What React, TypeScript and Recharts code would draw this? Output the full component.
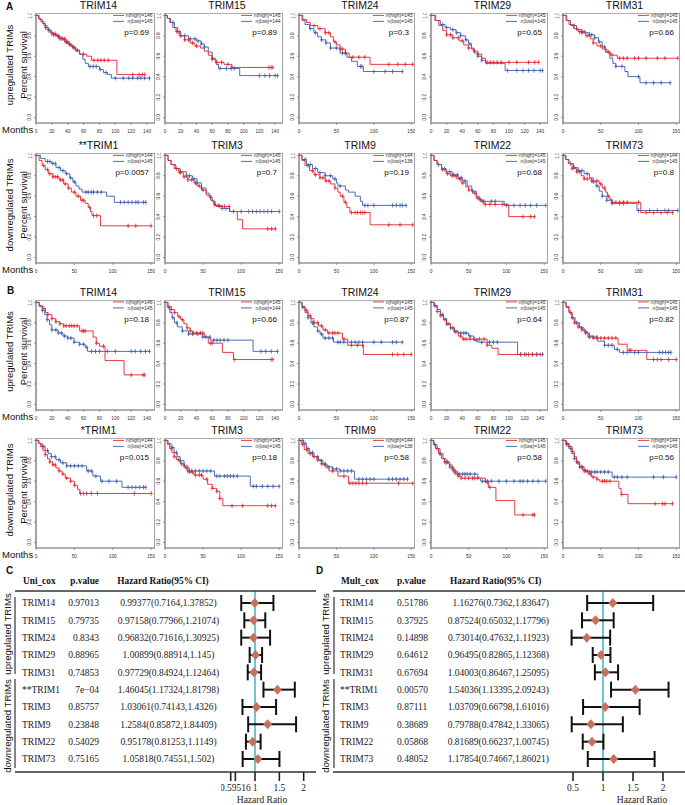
import React from 'react';
import {
  ComposedChart,
  ErrorBar,
  Line,
  ReferenceArea,
  ReferenceLine,
  Scatter,
  ScatterChart,
  XAxis,
  YAxis,
} from 'recharts';

type Pt = [number, number];

// KM curves: [month, survival] steps, plus censor months.
// A, upregulated
const a14Hi: Pt[] = [[0, 1], [3, 0.97], [6, 0.94], [10, 0.9], [14, 0.86], [18, 0.83], [22, 0.81], [27, 0.79], [32, 0.77], [38, 0.74], [42, 0.71], [46, 0.68], [50, 0.65], [55, 0.62], [64, 0.6], [70, 0.56], [102, 0.42]];
const a14HiC = [22, 25, 28, 33, 36, 38, 40, 43, 48, 60, 73, 78, 82, 86, 91, 122, 130, 134, 137];
const a14Lo: Pt[] = [[0, 1], [4, 0.96], [8, 0.92], [12, 0.88], [16, 0.85], [20, 0.82], [25, 0.8], [30, 0.77], [36, 0.74], [40, 0.72], [45, 0.69], [50, 0.66], [55, 0.62], [59, 0.57], [62, 0.53], [66, 0.5], [80, 0.47], [85, 0.44], [90, 0.42], [95, 0.385]];
const a14LoC = [12, 16, 20, 24, 28, 30, 34, 38, 42, 47, 52, 68, 72, 76, 81, 88, 100, 110, 117, 122, 128, 132, 137, 143];

const a15Hi: Pt[] = [[0, 1], [3, 0.97], [6, 0.93], [10, 0.88], [14, 0.84], [18, 0.8], [25, 0.76], [32, 0.73], [38, 0.7], [45, 0.68], [50, 0.65], [55, 0.61], [60, 0.58], [64, 0.54], [75, 0.52], [85, 0.49]];
const a15HiC = [15, 20, 25, 30, 35, 40, 60, 66, 72, 80, 85, 132, 135, 137];
const a15Lo: Pt[] = [[0, 1], [3, 0.97], [7, 0.93], [12, 0.88], [16, 0.84], [20, 0.8], [30, 0.77], [40, 0.75], [46, 0.72], [50, 0.69], [55, 0.64], [60, 0.57], [65, 0.52], [68, 0.48], [95, 0.41]];
const a15LoC = [10, 18, 25, 32, 38, 42, 46, 50, 60, 70, 78, 84, 88, 120, 127, 133, 140, 143];

const a24Hi: Pt[] = [[0, 1], [5, 0.96], [10, 0.93], [15, 0.9], [25, 0.87], [35, 0.83], [42, 0.79], [46, 0.74], [50, 0.71], [55, 0.67], [62, 0.63], [67, 0.59], [95, 0.52]];
const a24HiC = [20, 28, 35, 40, 48, 55, 58, 62, 72, 80, 88, 120, 132, 142, 152];
const a24Lo: Pt[] = [[0, 1], [4, 0.95], [8, 0.91], [14, 0.87], [20, 0.83], [25, 0.79], [30, 0.76], [36, 0.73], [42, 0.68], [55, 0.63], [64, 0.59], [70, 0.55], [78, 0.5], [86, 0.45]];
const a24LoC = [15, 22, 30, 36, 42, 50, 58, 62, 82, 84, 100, 115, 125, 138];

const a29Hi: Pt[] = [[0, 1], [5, 0.95], [10, 0.9], [15, 0.85], [20, 0.81], [28, 0.78], [36, 0.75], [42, 0.71], [48, 0.68], [55, 0.65], [60, 0.62], [65, 0.58], [70, 0.54]];
const a29HiC = [20, 25, 28, 35, 40, 48, 55, 60, 72, 76, 80, 85, 90, 100, 110, 125, 133, 138];
const a29Lo: Pt[] = [[0, 1], [6, 0.95], [12, 0.91], [18, 0.88], [25, 0.86], [32, 0.83], [38, 0.8], [44, 0.76], [48, 0.72], [52, 0.67], [56, 0.63], [60, 0.6], [65, 0.56], [70, 0.53], [95, 0.46]];
const a29LoC = [15, 20, 28, 33, 38, 45, 50, 60, 65, 98, 110, 118, 125, 132, 140, 143];

const a31Hi: Pt[] = [[0, 1], [4, 0.95], [8, 0.91], [14, 0.87], [20, 0.84], [30, 0.8], [36, 0.77], [40, 0.73], [45, 0.7], [52, 0.67], [58, 0.64], [63, 0.61], [72, 0.58]];
const a31HiC = [18, 22, 25, 28, 32, 40, 50, 60, 65, 75, 80, 85, 95, 100, 110, 125, 135, 152];
const a31Lo: Pt[] = [[0, 1], [5, 0.95], [10, 0.9], [18, 0.86], [25, 0.83], [35, 0.81], [42, 0.78], [47, 0.74], [52, 0.69], [56, 0.64], [62, 0.58], [66, 0.53], [70, 0.5], [82, 0.45], [86, 0.4], [102, 0.34]];
const a31LoC = [15, 25, 35, 38, 42, 48, 55, 70, 78, 100, 110, 120, 130, 142];

// A, downregulated
const a1Hi: Pt[] = [[0, 1], [4, 0.95], [8, 0.9], [12, 0.86], [16, 0.82], [22, 0.79], [30, 0.76], [36, 0.72], [42, 0.68], [46, 0.64], [52, 0.6], [58, 0.56], [64, 0.53], [68, 0.49], [71, 0.45], [73, 0.41], [84, 0.31]];
const a1HiC = [10, 15, 18, 22, 25, 28, 32, 35, 38, 42, 50, 55, 60, 62, 70, 75, 79, 120, 130, 150];
const a1Lo: Pt[] = [[0, 1], [6, 0.97], [12, 0.94], [20, 0.92], [26, 0.88], [32, 0.85], [38, 0.82], [44, 0.78], [48, 0.74], [52, 0.7], [56, 0.67], [60, 0.64], [92, 0.6], [102, 0.54]];
const a1LoC = [15, 18, 22, 25, 30, 35, 40, 45, 50, 65, 68, 72, 75, 80, 85, 110, 115, 120, 125, 130, 133, 140, 143];

const a3Hi: Pt[] = [[0, 1], [4, 0.95], [8, 0.91], [12, 0.87], [18, 0.83], [24, 0.79], [30, 0.76], [38, 0.73], [42, 0.7], [48, 0.66], [54, 0.61], [60, 0.56], [64, 0.52], [67, 0.5], [85, 0.45], [95, 0.37], [102, 0.28]];
const a3HiC = [15, 20, 25, 30, 35, 40, 45, 50, 65, 72, 78, 84, 135, 140, 145];
const a3Lo: Pt[] = [[0, 1], [4, 0.95], [8, 0.91], [14, 0.87], [20, 0.84], [28, 0.8], [36, 0.77], [42, 0.73], [48, 0.68], [54, 0.63], [58, 0.59], [62, 0.55], [66, 0.51], [75, 0.48], [85, 0.45]];
const a3LoC = [20, 28, 32, 38, 42, 48, 60, 70, 75, 80, 90, 100, 110, 115, 120, 125, 130, 135, 140, 150];

const a9Hi: Pt[] = [[0, 1], [4, 0.95], [8, 0.9], [14, 0.85], [20, 0.81], [28, 0.78], [35, 0.75], [42, 0.72], [48, 0.68], [52, 0.64], [55, 0.6], [60, 0.54], [64, 0.49], [68, 0.44], [95, 0.32]];
const a9HiC = [12, 18, 22, 28, 32, 36, 40, 48, 58, 62, 70, 75, 78, 82, 85, 88, 120, 135, 152];
const a9Lo: Pt[] = [[0, 1], [4, 0.96], [10, 0.91], [18, 0.87], [25, 0.83], [35, 0.8], [45, 0.77], [50, 0.73], [52, 0.7], [62, 0.66], [66, 0.64], [75, 0.6], [82, 0.55], [85, 0.51]];
const a9LoC = [8, 15, 22, 28, 35, 42, 48, 55, 88, 92, 100, 125, 130, 135, 138, 143];

const a22Hi: Pt[] = [[0, 1], [4, 0.95], [8, 0.91], [14, 0.86], [20, 0.82], [26, 0.8], [34, 0.77], [40, 0.73], [46, 0.69], [50, 0.66], [55, 0.63], [60, 0.58], [65, 0.55], [70, 0.52], [103, 0.4]];
const a22HiC = [15, 22, 28, 32, 38, 42, 50, 58, 62, 68, 72, 78, 85, 95, 122, 132, 137];
const a22Lo: Pt[] = [[0, 1], [4, 0.95], [8, 0.91], [14, 0.87], [20, 0.84], [28, 0.81], [36, 0.78], [42, 0.75], [48, 0.7], [54, 0.65], [60, 0.6], [64, 0.57], [67, 0.55], [97, 0.51]];
const a22LoC = [10, 18, 25, 30, 35, 40, 45, 55, 65, 70, 80, 85, 100, 110, 118, 125, 132, 140, 152];

const a73Hi: Pt[] = [[0, 1], [3, 0.96], [7, 0.92], [12, 0.87], [18, 0.84], [24, 0.8], [28, 0.77], [38, 0.75], [48, 0.72], [52, 0.68], [56, 0.64], [59, 0.6], [62, 0.57], [65, 0.54], [103, 0.44]];
const a73HiC = [12, 18, 22, 28, 32, 38, 45, 50, 55, 60, 65, 70, 75, 80, 85, 100, 110, 120, 130, 138, 145];
const a73Lo: Pt[] = [[0, 1], [4, 0.96], [8, 0.92], [14, 0.88], [20, 0.85], [28, 0.82], [35, 0.78], [40, 0.74], [44, 0.7], [48, 0.65], [52, 0.6], [58, 0.56], [65, 0.53], [98, 0.46]];
const a73LoC = [10, 15, 20, 25, 32, 40, 45, 52, 58, 65, 75, 80, 100, 115, 125, 135, 140, 152];

// B, upregulated
const b14Hi: Pt[] = [[0, 1], [4, 0.97], [8, 0.94], [12, 0.9], [15, 0.88], [20, 0.84], [25, 0.81], [30, 0.79], [35, 0.77], [55, 0.72], [72, 0.66], [76, 0.6], [80, 0.57], [87, 0.43], [111, 0.29]];
const b14HiC = [10, 15, 20, 25, 30, 35, 38, 42, 45, 48, 52, 58, 60, 62, 76, 85, 120, 135, 137];
const b14Lo: Pt[] = [[0, 1], [4, 0.96], [8, 0.92], [11, 0.88], [14, 0.83], [17, 0.78], [20, 0.73], [28, 0.7], [34, 0.67], [40, 0.65], [48, 0.61], [55, 0.59], [62, 0.56], [65, 0.52]];
const b14LoC = [8, 14, 20, 25, 28, 32, 36, 40, 44, 48, 55, 60, 64, 70, 75, 80, 90, 100, 120, 125, 132, 138, 143];

const b15Hi: Pt[] = [[0, 1], [4, 0.96], [8, 0.93], [12, 0.9], [16, 0.86], [20, 0.83], [24, 0.79], [28, 0.75], [32, 0.72], [35, 0.7], [50, 0.66], [55, 0.6], [73, 0.51], [87, 0.44]];
const b15HiC = [8, 12, 18, 22, 28, 32, 36, 40, 45, 48, 58, 60, 88, 135, 137];
const b15Lo: Pt[] = [[0, 1], [3, 0.95], [6, 0.9], [9, 0.85], [12, 0.8], [16, 0.76], [22, 0.72], [30, 0.69], [48, 0.66], [58, 0.63], [112, 0.52]];
const b15LoC = [5, 10, 15, 22, 30, 35, 42, 48, 52, 57, 62, 66, 70, 75, 80, 122, 128, 135, 143];

const b24Hi: Pt[] = [[0, 1], [4, 0.96], [8, 0.92], [12, 0.87], [16, 0.84], [20, 0.8], [26, 0.77], [32, 0.73], [38, 0.7], [58, 0.64], [65, 0.58], [86, 0.49]];
const b24HiC = [10, 15, 20, 25, 30, 35, 40, 45, 48, 52, 60, 70, 78, 85, 125, 132, 140, 150];
const b24Lo: Pt[] = [[0, 1], [4, 0.95], [8, 0.9], [12, 0.85], [16, 0.8], [20, 0.76], [25, 0.72], [28, 0.69], [32, 0.65], [46, 0.61]];
const b24LoC = [5, 12, 18, 25, 30, 35, 40, 45, 52, 55, 60, 70, 75, 80, 85, 100, 110, 125, 130, 138];

const b29Hi: Pt[] = [[0, 1], [4, 0.96], [8, 0.91], [12, 0.87], [16, 0.83], [20, 0.79], [25, 0.75], [30, 0.71], [35, 0.67], [40, 0.64], [72, 0.58], [78, 0.55], [86, 0.49]];
const b29HiC = [8, 12, 18, 22, 28, 32, 38, 42, 45, 50, 55, 62, 68, 72, 115, 120, 125, 130, 135, 140];
const b29Lo: Pt[] = [[0, 1], [4, 0.97], [8, 0.93], [12, 0.88], [16, 0.84], [20, 0.79], [25, 0.75], [30, 0.72], [35, 0.7], [48, 0.67], [55, 0.63], [60, 0.61], [111, 0.49]];
const b29LoC = [5, 15, 20, 25, 30, 38, 42, 45, 50, 58, 65, 75, 80, 85, 115, 122, 130, 136, 143];

const b31Hi: Pt[] = [[0, 1], [4, 0.96], [8, 0.9], [12, 0.84], [15, 0.8], [20, 0.76], [25, 0.73], [30, 0.7], [35, 0.67], [40, 0.65], [73, 0.59], [85, 0.53], [111, 0.44]];
const b31HiC = [10, 15, 20, 25, 30, 35, 40, 45, 50, 55, 60, 65, 70, 88, 90, 120, 125, 130, 140, 150];
const b31Lo: Pt[] = [[0, 1], [4, 0.95], [8, 0.9], [12, 0.85], [16, 0.8], [22, 0.75], [28, 0.71], [33, 0.66], [46, 0.62], [55, 0.58], [68, 0.54], [75, 0.51]];
const b31LoC = [12, 18, 25, 30, 35, 40, 45, 55, 60, 65, 72, 80, 85, 95, 100, 128, 132, 136, 140, 143];

// B, downregulated
const b1Hi: Pt[] = [[0, 1], [3, 0.97], [6, 0.94], [9, 0.9], [12, 0.86], [15, 0.82], [18, 0.79], [22, 0.76], [26, 0.73], [30, 0.7], [34, 0.67], [38, 0.63], [45, 0.6], [50, 0.56], [54, 0.52], [57, 0.48]];
const b1HiC = [8, 12, 18, 22, 25, 30, 35, 40, 45, 50, 58, 62, 66, 72, 80, 128, 150];
const b1Lo: Pt[] = [[0, 1], [4, 0.97], [8, 0.94], [12, 0.9], [16, 0.87], [20, 0.84], [26, 0.81], [32, 0.78], [40, 0.75], [66, 0.7], [74, 0.65], [84, 0.6], [112, 0.54]];
const b1LoC = [10, 15, 20, 25, 30, 35, 40, 45, 50, 55, 60, 68, 72, 78, 86, 95, 105, 120, 125, 130, 135, 140, 143];

const b3Hi: Pt[] = [[0, 1], [3, 0.96], [6, 0.92], [9, 0.88], [12, 0.84], [15, 0.81], [20, 0.77], [26, 0.73], [32, 0.69], [38, 0.66], [50, 0.62], [56, 0.57], [62, 0.53], [68, 0.5], [72, 0.43], [76, 0.36]];
const b3HiC = [8, 12, 18, 22, 28, 32, 36, 40, 45, 48, 55, 62, 68, 72, 88, 102, 135, 140, 145];
const b3Lo: Pt[] = [[0, 1], [4, 0.97], [8, 0.93], [12, 0.88], [16, 0.84], [20, 0.8], [25, 0.75], [30, 0.7], [65, 0.65], [112, 0.55]];
const b3LoC = [10, 15, 20, 25, 30, 35, 40, 45, 50, 55, 60, 68, 72, 78, 82, 86, 90, 95, 116, 120, 128, 135, 142, 150];

const b9Hi: Pt[] = [[0, 1], [3, 0.96], [7, 0.91], [12, 0.87], [18, 0.84], [24, 0.81], [30, 0.77], [36, 0.73], [40, 0.7], [52, 0.65], [66, 0.58]];
const b9HiC = [5, 10, 15, 20, 25, 30, 35, 45, 60, 68, 72, 76, 80, 85, 90, 133, 152];
const b9Lo: Pt[] = [[0, 1], [6, 0.97], [10, 0.92], [14, 0.88], [20, 0.84], [26, 0.8], [32, 0.76], [38, 0.74], [45, 0.72], [55, 0.7], [74, 0.62]];
const b9LoC = [5, 8, 12, 18, 25, 30, 35, 40, 45, 50, 55, 60, 65, 70, 80, 85, 90, 95, 100, 120, 125, 130, 135, 140, 145];

const b22Hi: Pt[] = [[0, 1], [3, 0.96], [6, 0.92], [10, 0.87], [14, 0.82], [18, 0.79], [24, 0.76], [28, 0.72], [32, 0.68], [36, 0.65], [40, 0.63], [72, 0.59], [76, 0.54], [86, 0.41], [111, 0.27]];
const b22HiC = [8, 12, 18, 22, 28, 32, 36, 40, 45, 50, 55, 58, 62, 75, 78, 122, 135, 137];
const b22Lo: Pt[] = [[0, 1], [4, 0.96], [8, 0.92], [12, 0.87], [16, 0.82], [20, 0.78], [25, 0.74], [30, 0.7], [35, 0.67], [62, 0.63], [66, 0.6]];
const b22LoC = [5, 12, 20, 25, 30, 35, 38, 42, 45, 48, 52, 58, 68, 72, 75, 80, 90, 100, 110, 118, 122, 128, 135, 142, 152];

const b73Hi: Pt[] = [[0, 1], [4, 0.97], [8, 0.94], [12, 0.89], [15, 0.84], [18, 0.79], [22, 0.74], [28, 0.7], [33, 0.67], [38, 0.64], [45, 0.62], [48, 0.6], [74, 0.53], [77, 0.47], [86, 0.38]];
const b73HiC = [5, 8, 12, 18, 22, 25, 28, 32, 36, 40, 45, 52, 55, 58, 62, 78, 122, 132, 135, 145];
const b73Lo: Pt[] = [[0, 1], [4, 0.96], [8, 0.92], [12, 0.87], [15, 0.82], [18, 0.78], [22, 0.74], [26, 0.71], [30, 0.7], [35, 0.69], [65, 0.64]];
const b73LoC = [5, 10, 15, 20, 25, 30, 35, 38, 42, 45, 50, 55, 60, 68, 72, 78, 85, 120, 133, 150];

const KM_TITLES = [
  ['TRIM14', 'TRIM15', 'TRIM24', 'TRIM29', 'TRIM31'],
  ['**TRIM1', 'TRIM3', 'TRIM9', 'TRIM22', 'TRIM73'],
  ['TRIM14', 'TRIM15', 'TRIM24', 'TRIM29', 'TRIM31'],
  ['*TRIM1', 'TRIM3', 'TRIM9', 'TRIM22', 'TRIM73'],
];
const N_HIGH = [
  [146, 145, 145, 145, 145],
  [144, 145, 144, 145, 144],
  [146, 145, 145, 145, 145],
  [144, 145, 144, 145, 144],
];
const N_LOW = [
  [145, 144, 145, 145, 145],
  [145, 145, 138, 145, 145],
  [145, 144, 145, 145, 145],
  [145, 145, 138, 145, 145],
];
const P_KM = [
  ['0.69', '0.89', '0.3', '0.65', '0.66'],
  ['0.0057', '0.7', '0.19', '0.68', '0.8'],
  ['0.18', '0.66', '0.87', '0.64', '0.82'],
  ['0.015', '0.18', '0.58', '0.58', '0.56'],
];
const KM_CURVES: [Pt[], number[], Pt[], number[]][][] = [
  [[a14Hi, a14HiC, a14Lo, a14LoC], [a15Hi, a15HiC, a15Lo, a15LoC], [a24Hi, a24HiC, a24Lo, a24LoC], [a29Hi, a29HiC, a29Lo, a29LoC], [a31Hi, a31HiC, a31Lo, a31LoC]],
  [[a1Hi, a1HiC, a1Lo, a1LoC], [a3Hi, a3HiC, a3Lo, a3LoC], [a9Hi, a9HiC, a9Lo, a9LoC], [a22Hi, a22HiC, a22Lo, a22LoC], [a73Hi, a73HiC, a73Lo, a73LoC]],
  [[b14Hi, b14HiC, b14Lo, b14LoC], [b15Hi, b15HiC, b15Lo, b15LoC], [b24Hi, b24HiC, b24Lo, b24LoC], [b29Hi, b29HiC, b29Lo, b29LoC], [b31Hi, b31HiC, b31Lo, b31LoC]],
  [[b1Hi, b1HiC, b1Lo, b1LoC], [b3Hi, b3HiC, b3Lo, b3LoC], [b9Hi, b9HiC, b9Lo, b9LoC], [b22Hi, b22HiC, b22Lo, b22LoC], [b73Hi, b73HiC, b73Lo, b73LoC]],
];

// forest plots
const COX_GENES = ['TRIM14', 'TRIM15', 'TRIM24', 'TRIM29', 'TRIM31', '**TRIM1', 'TRIM3', 'TRIM9', 'TRIM22', 'TRIM73'];
const UNI_P = ['0.97013', '0.79735', '0.8343', '0.88965', '0.74853', '7e\u221204', '0.85757', '0.23848', '0.54029', '0.75165'];
const UNI_HR = [0.99377, 0.97158, 0.96832, 1.00899, 0.97729, 1.46045, 1.03061, 1.2584, 0.95178, 1.05818];
const UNI_LO = [0.7164, 0.77966, 0.71616, 0.88914, 0.84924, 1.17324, 0.74143, 0.85872, 0.81253, 0.74551];
const UNI_HI = [1.37852, 1.21074, 1.30925, 1.145, 1.12464, 1.81798, 1.4326, 1.84409, 1.1149, 1.502];
const MULT_P = ['0.51786', '0.37925', '0.14898', '0.64612', '0.67694', '0.00570', '0.87111', '0.38689', '0.05868', '0.48052'];
const MULT_HR = [1.16276, 0.87524, 0.73014, 0.96495, 1.04003, 1.54036, 1.03709, 0.79788, 0.81689, 1.17854];
const MULT_LO = [0.7362, 0.65032, 0.47632, 0.82865, 0.86467, 1.13395, 0.66798, 0.47842, 0.66237, 0.74667];
const MULT_HI = [1.83647, 1.17796, 1.11923, 1.12368, 1.25095, 2.09243, 1.61016, 1.33065, 1.00745, 1.86021];
const UNI_TICKS = [0.5, 0.59516, 1, 1.5, 2];
const MULT_TICKS = [0.5, 1, 1.5, 2];

const RED = '#e3262d';
const BLUE = '#3b5eac';
const FRAME = '#959595';
const TEAL = '#6ac7ca';
const DIAMOND = '#c8705c';
const SANS = '"Liberation Sans", Arial, sans-serif';
const SERIF = '"Liberation Serif", "Times New Roman", serif';

const COL_L = [36, 165, 299, 431, 563];
const COL_R = [155, 283, 415, 548, 680];
const ROW_T = [13, 153, 299.5, 438];
const BOX_H = 110;
const Y_MIN = -0.054;
const Y_MAX = 1.023;
const Y_AX = 12;
const X_AX = 14;

const F_TOP = 591;
const F_BOT = 772;
const ROW0 = 603;
const ROW_STEP = 17.33;

const stepAt = (steps: Pt[], t: number) => {
  let s = steps[0][1];
  for (const [ts, v] of steps) if (ts <= t) s = v;
  return s;
};
const curvePts = (steps: Pt[], cens: number[]) => {
  const pts = steps.map(([t, s]) => ({ t, s }));
  const last = steps[steps.length - 1];
  const end = cens[cens.length - 1];
  if (end > last[0]) pts.push({ t: end, s: last[1] });
  return pts;
};
const censPts = (steps: Pt[], cens: number[]) => cens.map((t) => ({ t, s: stepAt(steps, t) }));

const Cross = (color: string) => (p: any) => (
  <path
    d={`M${p.cx - 1.5},${p.cy}H${p.cx + 1.5}M${p.cx},${p.cy - 2.2}V${p.cy + 2.2}`}
    stroke={color}
    strokeWidth={0.8}
    fill="none"
  />
);

const XTick = (p: any) => (
  <text x={p.x} y={BOX_H + 9.5} textAnchor="middle" fontSize={4.8} fontFamily={SANS} fill="#333">
    {p.payload.value}
  </text>
);
const YTick = (p: any) => (
  <text
    x={Y_AX - 4.5}
    y={p.y}
    transform={`rotate(-90 ${Y_AX - 4.5} ${p.y})`}
    textAnchor="middle"
    fontSize={4.8}
    fontFamily={SANS}
    fill="#333"
  >
    {Number(p.payload.value).toFixed(1)}
  </text>
);

function KmChart({ row, col }: { row: number; col: number }) {
  const [hi, hiC, lo, loC] = KM_CURVES[row][col];
  const w = COL_R[col] - COL_L[col];
  const fine = row % 2 === 0 && col !== 2 && col !== 4;
  const xMax = fine ? 150 : 155;
  const xTicks = fine ? [0, 20, 40, 60, 80, 100, 120, 140] : [0, 50, 100, 150];
  return (
    <div style={{ position: 'absolute', left: COL_L[col] - Y_AX, top: ROW_T[row] }}>
      <ComposedChart width={w + Y_AX} height={BOX_H + X_AX} margin={{ top: 0, right: 0, bottom: 0, left: 0 }}>
        <XAxis
          type="number"
          dataKey="t"
          domain={[0, xMax]}
          ticks={xTicks}
          interval={0}
          allowDataOverflow
          height={X_AX}
          axisLine={false}
          tickSize={2}
          tickLine={{ stroke: '#666', strokeWidth: 0.6 }}
          tick={XTick}
        />
        <YAxis
          type="number"
          dataKey="s"
          domain={[Y_MIN, Y_MAX]}
          ticks={[0, 0.2, 0.4, 0.6, 0.8, 1]}
          interval={0}
          allowDataOverflow
          width={Y_AX}
          axisLine={false}
          tickSize={2}
          tickLine={{ stroke: '#666', strokeWidth: 0.6 }}
          tick={YTick}
        />
        <ReferenceArea
          x1={0}
          x2={xMax}
          y1={Y_MIN}
          y2={Y_MAX}
          fill="#fff"
          fillOpacity={0}
          stroke={FRAME}
          strokeWidth={1.7}
          ifOverflow="visible"
        />
        <Line data={curvePts(lo, loC)} dataKey="s" type="stepAfter" stroke={BLUE} strokeWidth={0.9} dot={false} isAnimationActive={false} />
        <Line data={curvePts(hi, hiC)} dataKey="s" type="stepAfter" stroke={RED} strokeWidth={0.9} dot={false} isAnimationActive={false} />
        <Scatter data={censPts(lo, loC)} dataKey="s" shape={Cross(BLUE)} isAnimationActive={false} />
        <Scatter data={censPts(hi, hiC)} dataKey="s" shape={Cross(RED)} isAnimationActive={false} />
      </ComposedChart>
    </div>
  );
}

const Diamond = (p: any) => (
  <polygon
    points={`${p.cx - 4.5},${p.cy} ${p.cx},${p.cy - 5} ${p.cx + 4.5},${p.cy} ${p.cx},${p.cy + 5}`}
    fill={DIAMOND}
  />
);

function Forest({ left, width, hr, lo, hi, ticks, hidden }: {
  left: number; width: number; hr: number[]; lo: number[]; hi: number[]; ticks: number[]; hidden: number[];
}) {
  const data = hr.map((v, i) => ({ hr: v, row: i, err: [v - lo[i], hi[i] - v] }));
  const tick = (p: any) =>
    hidden.includes(p.payload.value) ? (
      <g />
    ) : (
      <text x={p.x} y={F_BOT - F_TOP + 19} textAnchor="middle" fontSize={9.5} fontFamily={SERIF} fill="#222">
        {p.payload.value}
      </text>
    );
  return (
    <div style={{ position: 'absolute', left, top: F_TOP }}>
      <ScatterChart width={width} height={F_BOT - F_TOP + 30} margin={{ top: 0, right: 0, bottom: 0, left: 0 }}>
        <XAxis
          type="number"
          dataKey="hr"
          domain={[0.3, 2.2]}
          ticks={ticks}
          interval={0}
          allowDataOverflow
          height={30}
          axisLine={false}
          tickSize={9}
          tickLine={{ stroke: '#222', strokeWidth: 1.6 }}
          tick={tick}
        />
        <YAxis type="number" dataKey="row" domain={[-0.69, 9.75]} reversed hide allowDataOverflow />
        <ReferenceLine x={1} stroke={TEAL} strokeWidth={2} />
        <Scatter data={data} shape={Diamond} isAnimationActive={false}>
          <ErrorBar dataKey="err" direction="x" width={8} strokeWidth={2} stroke="#111" />
        </Scatter>
      </ScatterChart>
    </div>
  );
}

function Overlay() {
  const el: React.ReactNode[] = [];
  for (let r = 0; r < 4; r++) {
    const T = ROW_T[r];
    for (let c = 0; c < 5; c++) {
      const L = COL_L[c];
      const R = COL_R[c];
      el.push(
        <g key={`k${r}${c}`}>
          <text x={(L + R) / 2 + 3} y={T - 4} textAnchor="middle" fontSize={10.5}>{KM_TITLES[r][c]}</text>
          <line x1={R - 42} x2={R - 31} y1={T + 2.4} y2={T + 2.4} stroke={RED} strokeWidth={0.9} />
          <line x1={R - 42} x2={R - 31} y1={T + 8.4} y2={T + 8.4} stroke={BLUE} strokeWidth={0.9} />
          <text x={R - 2.5} y={T + 4.2} textAnchor="end" fontSize={5} fill="#333">{`n(high)=${N_HIGH[r][c]}`}</text>
          <text x={R - 2.5} y={T + 10.2} textAnchor="end" fontSize={5} fill="#333">{`n(low)=${N_LOW[r][c]}`}</text>
          <text x={R - 6} y={T + 22} textAnchor="end" fontSize={8}>{`p=${P_KM[r][c]}`}</text>
        </g>,
      );
    }
    const cy = T + 52;
    el.push(
      <g key={`r${r}`} fontSize={9.5}>
        <text x={13} y={cy} transform={`rotate(-90 13 ${cy})`} textAnchor="middle">
          {r % 2 === 0 ? 'upregulated TRIMs' : 'downregulated TRIMs'}
        </text>
        <text x={27} y={cy} transform={`rotate(-90 27 ${cy})`} textAnchor="middle">Percent survival</text>
        <text x={2} y={T + BOX_H + 10}>Months</text>
      </g>,
    );
  }

  const rowY = (i: number) => ROW0 + i * ROW_STEP + 3.3;
  const table = (
    x0: number, x1: number, nameX: number, bracketX: number, labelX: number,
    head: string, pAnchor: 'end' | 'start', pX: number, hrAnchor: 'middle' | 'end', hrX: number,
    hrHeadX: number, hrHeadAnchor: 'middle' | 'start', pHeadX: number,
    p: string[], hr: number[], lo: number[], hi: number[], axisMid: number, k: string,
  ) => (
    <g key={k}>
      <g fontFamily={SERIF} fontWeight="bold" fontSize={9.3}>
        <text x={nameX + 1} y={583.5}>{head}</text>
        <text x={pHeadX} y={583.5} textAnchor={pAnchor}>p.value</text>
        <text x={hrHeadX} y={583.5} textAnchor={hrHeadAnchor}>Hazard Ratio(95% CI)</text>
      </g>
      <line x1={x0} x2={x1} y1={F_TOP} y2={F_TOP} stroke="#333" strokeWidth={1.5} />
      <line x1={x0} x2={x1} y1={F_BOT} y2={F_BOT} stroke="#333" strokeWidth={1.5} />
      <line x1={bracketX} x2={bracketX} y1={597} y2={674} stroke="#333" strokeWidth={1.2} />
      <line x1={bracketX} x2={bracketX} y1={679} y2={768} stroke="#333" strokeWidth={1.2} />
      <text x={labelX} y={634} transform={`rotate(-90 ${labelX} 634)`} textAnchor="middle" fontSize={9.6}>upregulated TRIMs</text>
      <text x={labelX} y={726} transform={`rotate(-90 ${labelX} 726)`} textAnchor="middle" fontSize={9.6}>downregulated TRIMs</text>
      <g fontFamily={SERIF} fontSize={9.5} fill="#222">
        {COX_GENES.map((g, i) => (
          <g key={g}>
            <text x={nameX} y={rowY(i)}>{g}</text>
            <text x={pX} y={rowY(i)} textAnchor={pAnchor}>{p[i]}</text>
            <text x={hrX} y={rowY(i)} textAnchor={hrAnchor}>{`${hr[i]}(${lo[i]},${hi[i]})`}</text>
          </g>
        ))}
        <text x={axisMid} y={803} textAnchor="middle">Hazard Ratio</text>
      </g>
    </g>
  );

  return (
    <svg
      width={685}
      height={805}
      style={{ position: 'absolute', left: 0, top: 0, pointerEvents: 'none' }}
      fontFamily={SANS}
      fill="#111"
    >
      <g fontWeight="bold" fontSize={10}>
        <text x={6} y={9.5}>A</text>
        <text x={7} y={294}>B</text>
        <text x={6} y={574}>C</text>
        <text x={316} y={574}>D</text>
      </g>
      {el}
      {table(15, 316, 22, 15, 11, 'Uni_cox', 'end', 99, 'middle', 168.5, 163, 'middle', 99,
        UNI_P, UNI_HR, UNI_LO, UNI_HI, 262, 'c')}
      {table(333, 685, 340, 334, 329, 'Mult_cox', 'start', 397, 'end', 549, 450, 'start', 397,
        MULT_P, MULT_HR, MULT_LO, MULT_HI, 642, 'd')}
    </svg>
  );
}

export default function App() {
  const cells: React.ReactNode[] = [];
  for (let r = 0; r < 4; r++) for (let c = 0; c < 5; c++) cells.push(<KmChart key={`${r}-${c}`} row={r} col={c} />);
  return (
    <div style={{ position: 'absolute', left: 0, top: 0, width: 685, height: 805, background: '#fff', overflow: 'hidden' }}>
      {cells}
      <Forest left={221} width={92.4} hr={UNI_HR} lo={UNI_LO} hi={UNI_HI} ticks={UNI_TICKS} hidden={[0.5]} />
      <Forest left={561} width={114} hr={MULT_HR} lo={MULT_LO} hi={MULT_HI} ticks={MULT_TICKS} hidden={[]} />
      <Overlay />
    </div>
  );
}
